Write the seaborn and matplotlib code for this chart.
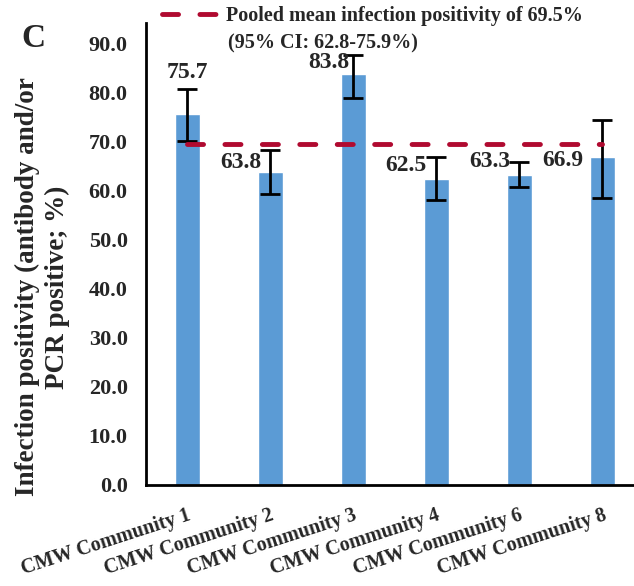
import numpy as np
import matplotlib
matplotlib.use('Agg')
import matplotlib.pyplot as plt
import seaborn as sns

# data
communities = ['CMW Community 1', 'CMW Community 2', 'CMW Community 3',
               'CMW Community 4', 'CMW Community 6', 'CMW Community 8']
positivity = [75.7, 63.8, 83.8, 62.5, 63.3, 66.9]
ci_low = [70.1, 59.3, 78.9, 58.2, 60.8, 58.6]
ci_high = [80.7, 68.3, 87.8, 66.9, 66.0, 74.5]
pooled_mean = 69.5
pooled_ci = (62.8, 75.9)

# where the value labels sit (hand placed in the original)
label_dx = [0.0, -0.36, -0.30, -0.37, -0.36, -0.48]
label_y = [84.2, 65.8, 86.2, 65.1, 66.0, 66.3]

sns.set_style('white')
plt.rcParams['font.family'] = ['Liberation Serif', 'DejaVu Serif']
plt.rcParams['font.weight'] = 'bold'

bar_col = '#5B9BD5'
line_col = '#B00A30'

fig = plt.figure(figsize=(6.34, 5.86), dpi=100)
ax = fig.add_axes([0.2298, 0.1724, 0.7702, 0.7878])

sns.barplot(x=communities, y=positivity, color=bar_col, width=0.305,
            saturation=1, ax=ax)

x = np.arange(len(communities))
vals = np.array(positivity)
yerr = [vals - np.array(ci_low), np.array(ci_high) - vals]
ax.errorbar(x, vals, yerr=yerr, fmt='none', ecolor='black', elinewidth=2,
            capsize=7, capthick=2, zorder=3)

ax.plot(x, [pooled_mean] * len(x), color=line_col, lw=3.5,
        linestyle=(0, (3.3, 4.4)), dash_capstyle='round', zorder=4,
        label='Pooled mean infection positivity of %.1f%%' % pooled_mean)

for i, v in enumerate(positivity):
    ax.text(x[i] + label_dx[i], label_y[i], '%.1f' % v, ha='center',
            va='center', fontsize=17, fontweight='bold')

ax.set_xlim(-0.5, 5.38)
ax.set_ylim(0, 94.2)
ax.set_yticks(np.arange(0, 91, 10))
ax.set_yticklabels(['%.1f' % t for t in np.arange(0, 91, 10)])
ax.tick_params(axis='y', length=0, pad=13, labelsize=16)
ax.tick_params(axis='x', length=0, pad=15)
for lab in ax.get_xticklabels():
    lab.set_rotation(18)
    lab.set_ha('right')
    lab.set_va('top')
    lab.set_rotation_mode('anchor')
    lab.set_fontsize(14.5)
    lab.set_fontweight('bold')
ax.set_xlabel('')
ax.set_ylabel('')
for s in ['top', 'right']:
    ax.spines[s].set_visible(False)
for s in ['left', 'bottom']:
    ax.spines[s].set_color('black')
    ax.spines[s].set_linewidth(2)

# legend, with the CI on a second line under the text
fig.legend(loc='center left', bbox_to_anchor=(162 / 634, 1 - 16 / 586),
           frameon=False, borderpad=0, borderaxespad=0, handlelength=2.85,
           handletextpad=0.35, prop={'size': 14.5, 'weight': 'bold'})
fig.text(228 / 634, 1 - 43 / 586, '(95%% CI: %.1f-%.1f%%)' % pooled_ci,
         ha='left', va='center', fontsize=14.5, fontweight='bold')

fig.text(42 / 634, 1 - 287 / 586,
         'Infection positivity (antibody and/or\nPCR positive; %)',
         rotation=90, ha='center', va='center', multialignment='center',
         fontsize=19.5, fontweight='bold', linespacing=1.25)
fig.text(21 / 634, 1 - 47 / 586, 'C', fontsize=24, fontweight='bold',
         ha='left', va='baseline')

plt.savefig('out.png', dpi=100)
